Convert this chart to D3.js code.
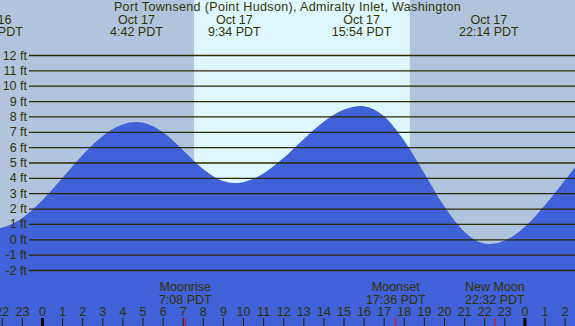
<!doctype HTML>
<html>
<head>
  <script type="text/javascript" src="https://cdn.jsdelivr.net/npm/d3@7"></script>
  <style>
    body { margin: 0; }
    text { font-family: "Liberation Sans", Arial, sans-serif; font-size: 12.5px; fill: #333300; }
  </style>
</head>
<body>
<div id="chart"></div>
<script>

// hours are counted from midnight Oct 17 (negative = Oct 16)
var title = "Port Townsend (Point Hudson), Admiralty Inlet, Washington";

var tideHours = [-2.6, -2.44, -2, -1, 0, 1, 2, 3, 4, 4.7, 5, 6, 7, 8, 9, 9.57, 10, 11, 12, 13, 14, 15, 15.9, 16, 17, 18, 19, 20, 21, 22, 22.23, 23, 24, 25, 26, 27];
var tideFeet  = [0.71, 0.7, 0.76, 1.37, 2.52, 3.97, 5.46, 6.71, 7.48, 7.64, 7.6, 6.98, 5.82, 4.6, 3.79, 3.66, 3.72, 4.27, 5.27, 6.5, 7.64, 8.43, 8.68, 8.67, 8.03, 6.46, 4.34, 2.18, 0.51, -0.27, -0.3, -0.09, 0.79, 2.18, 3.83, 5.44];

var extremeHours = [-2.44, 4.7, 9.57, 15.9, 22.23];
var extremeDates = ["Oct 16", "Oct 17", "Oct 17", "Oct 17", "Oct 17"];
var extremeTimes = ["21:34 PDT", "4:42 PDT", "9:34 PDT", "15:54 PDT", "22:14 PDT"];

var sunrise = 7.57, sunset = 18.3;

var moonHours = [7.13, 17.6, 22.53];
var moonNames = ["Moonrise", "Moonset", "New Moon"];
var moonTimes = ["7:08 PDT", "17:36 PDT", "22:32 PDT"];

var feetTicks = [-2, -1, 0, 1, 2, 3, 4, 5, 6, 7, 8, 9, 10, 11, 12];
var hourTicks = d3.range(-2, 27);

var width = 575, height = 326;

var x = d3.scaleLinear().domain([0, 24]).range([42, 524.4]);
var y = d3.scaleLinear().domain([-2, 12]).range([270, 55]);

var svg = d3.select("#chart").append("svg").attr("width", width).attr("height", height);

// night / day background
svg.append("rect").attr("x", 0).attr("y", 0).attr("width", width).attr("height", height).attr("fill", "#b0c4de");
svg.append("rect").attr("x", x(sunrise)).attr("y", 0)
  .attr("width", x(sunset) - x(sunrise)).attr("height", height).attr("fill", "#ddf7ff");

// water
var tide = tideHours.map(function(h, i) { return [h, tideFeet[i]]; });
var area = d3.area()
  .x(function(d) { return x(d[0]); })
  .y0(height)
  .y1(function(d) { return y(d[1]); })
  .curve(d3.curveMonotoneX);
svg.append("path").datum(tide).attr("d", area).attr("fill", "#4161d8");

// ft gridlines
var yAxis = d3.axisLeft(y).tickValues(feetTicks).tickSize(-(width - 29)).tickPadding(2)
  .tickFormat(function(d) { return d + " ft"; });
var ga = svg.append("g").attr("transform", "translate(29,0)").call(yAxis);
ga.select(".domain").remove();
ga.selectAll("line").attr("stroke", "#2a2a00").attr("stroke-width", 1.3);
ga.selectAll("text").attr("font-size", 12).attr("font-family", null).attr("fill", "#333300").attr("x", -2);

// title and high / low labels
svg.append("text").attr("x", width / 2).attr("y", 10.5).attr("text-anchor", "middle")
  .attr("letter-spacing", 0.35).text(title);
var ext = svg.selectAll(".ext").data(extremeHours).enter().append("g").attr("class", "ext");
ext.append("text").attr("x", function(d) { return x(d); }).attr("y", 23.5).attr("text-anchor", "middle")
  .text(function(d, i) { return extremeDates[i]; });
ext.append("text").attr("x", function(d) { return x(d); }).attr("y", 35.5).attr("text-anchor", "middle")
  .text(function(d, i) { return extremeTimes[i]; });

// moon labels
var moon = svg.selectAll(".moon").data(moonHours).enter().append("g").attr("class", "moon");
moon.append("text").attr("x", function(d) { return x(d); }).attr("y", 291).attr("text-anchor", "middle")
  .text(function(d, i) { return moonNames[i]; });
moon.append("text").attr("x", function(d) { return x(d); }).attr("y", 303.5).attr("text-anchor", "middle")
  .text(function(d, i) { return moonTimes[i]; });
moon.append("line").attr("x1", function(d) { return x(d); }).attr("x2", function(d) { return x(d); })
  .attr("y1", 318).attr("y2", height).attr("stroke", "#ff0000").attr("stroke-width", 1);

// hour axis
var xAxis = d3.axisTop(x).tickValues(hourTicks).tickSize(8).tickPadding(2)
  .tickFormat(function(d) { return ((d % 24) + 24) % 24; });
var gx = svg.append("g").attr("transform", "translate(0," + height + ")").call(xAxis);
gx.select(".domain").remove();
gx.selectAll("line")
  .attr("stroke-width", function(d) { return d % 24 === 0 ? 3 : 1; })
  .attr("stroke", function(d) { return d % 24 === 0 ? "#000" : "#222200"; });
gx.selectAll("text").attr("font-size", 12).attr("font-family", null).attr("fill", "#333300");

</script>
</body>
</html>
